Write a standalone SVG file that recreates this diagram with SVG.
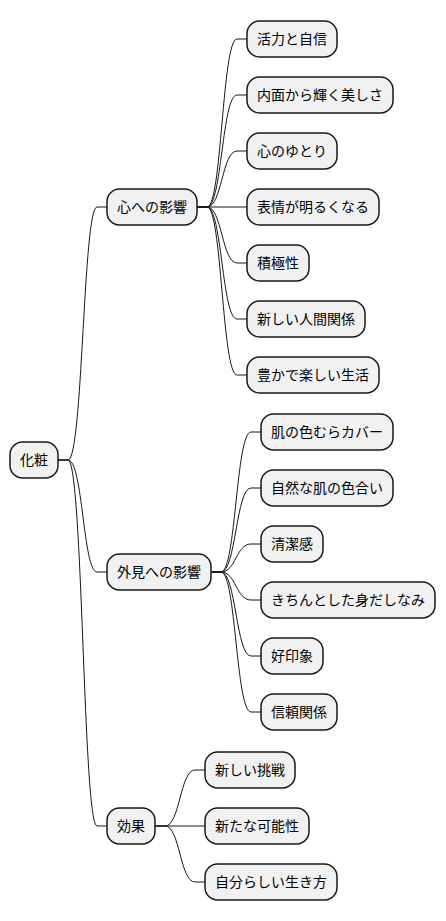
<svg xmlns="http://www.w3.org/2000/svg" width="446" height="921" viewBox="0 0 446 921">
<style>
.n rect{fill:#F1F1F1;stroke:#181818;stroke-width:1.5}
.n text{font-family:"Noto Sans CJK JP","Noto Sans CJK SC",sans-serif;font-size:14px;fill:#000}
#connectors path{fill:none;stroke:#181818;stroke-width:1}
</style>
<rect width="446" height="921" fill="#FFFFFF"/>
<g id="connectors">
<path d="M58,460 H68 C83,460 83,207 97,207 H107"/>
<path d="M58,460 H68 C83,460 83,572 97,572 H107"/>
<path d="M58,460 H68 C83,460 83,826 97,826 H107"/>
<path d="M197,207 H207 C222,207 222,39 237,39 H247"/>
<path d="M197,207 H207 C222,207 222,95 237,95 H247"/>
<path d="M197,207 H207 C222,207 222,151 237,151 H247"/>
<path d="M197,207 H247"/>
<path d="M197,207 H207 C222,207 222,263 237,263 H247"/>
<path d="M197,207 H207 C222,207 222,319 237,319 H247"/>
<path d="M197,207 H207 C222,207 222,375 237,375 H247"/>
<path d="M211,572 H221 C236,572 236,432 251,432 H261"/>
<path d="M211,572 H221 C236,572 236,488 251,488 H261"/>
<path d="M211,572 H221 C236,572 236,544 251,544 H261"/>
<path d="M211,572 H221 C236,572 236,600 251,600 H261"/>
<path d="M211,572 H221 C236,572 236,656 251,656 H261"/>
<path d="M211,572 H221 C236,572 236,712 251,712 H261"/>
<path d="M155,826 H165 C180,826 180,770 195,770 H205"/>
<path d="M155,826 H205"/>
<path d="M155,826 H165 C180,826 180,882 195,882 H205"/>
</g>
<g id="root" class="n"><rect x="10" y="442" width="48" height="36" rx="12.5"/><text x="20" y="465">化粧</text></g>
<g id="n1" class="n"><rect x="107" y="189" width="90" height="36" rx="12.5"/><text x="117" y="212">心への影響</text></g>
<g id="n2" class="n"><rect x="107" y="554" width="104" height="36" rx="12.5"/><text x="117" y="577">外見への影響</text></g>
<g id="n3" class="n"><rect x="107" y="808" width="48" height="36" rx="12.5"/><text x="117" y="831">効果</text></g>
<g id="n1a" class="n"><rect x="247" y="21" width="90" height="36" rx="12.5"/><text x="257" y="44">活力と自信</text></g>
<g id="n1b" class="n"><rect x="247" y="77" width="146" height="36" rx="12.5"/><text x="257" y="100">内面から輝く美しさ</text></g>
<g id="n1c" class="n"><rect x="247" y="133" width="90" height="36" rx="12.5"/><text x="257" y="156">心のゆとり</text></g>
<g id="n1d" class="n"><rect x="247" y="189" width="132" height="36" rx="12.5"/><text x="257" y="212">表情が明るくなる</text></g>
<g id="n1e" class="n"><rect x="247" y="245" width="62" height="36" rx="12.5"/><text x="257" y="268">積極性</text></g>
<g id="n1f" class="n"><rect x="247" y="301" width="118" height="36" rx="12.5"/><text x="257" y="324">新しい人間関係</text></g>
<g id="n1g" class="n"><rect x="247" y="357" width="132" height="36" rx="12.5"/><text x="257" y="380">豊かで楽しい生活</text></g>
<g id="n2a" class="n"><rect x="261" y="414" width="132" height="36" rx="12.5"/><text x="271" y="437">肌の色むらカバー</text></g>
<g id="n2b" class="n"><rect x="261" y="470" width="132" height="36" rx="12.5"/><text x="271" y="493">自然な肌の色合い</text></g>
<g id="n2c" class="n"><rect x="261" y="526" width="62" height="36" rx="12.5"/><text x="271" y="549">清潔感</text></g>
<g id="n2d" class="n"><rect x="261" y="582" width="174" height="36" rx="12.5"/><text x="271" y="605">きちんとした身だしなみ</text></g>
<g id="n2e" class="n"><rect x="261" y="638" width="62" height="36" rx="12.5"/><text x="271" y="661">好印象</text></g>
<g id="n2f" class="n"><rect x="261" y="694" width="76" height="36" rx="12.5"/><text x="271" y="717">信頼関係</text></g>
<g id="n3a" class="n"><rect x="205" y="752" width="90" height="36" rx="12.5"/><text x="215" y="775">新しい挑戦</text></g>
<g id="n3b" class="n"><rect x="205" y="808" width="104" height="36" rx="12.5"/><text x="215" y="831">新たな可能性</text></g>
<g id="n3c" class="n"><rect x="205" y="864" width="132" height="36" rx="12.5"/><text x="215" y="887">自分らしい生き方</text></g>
</svg>
